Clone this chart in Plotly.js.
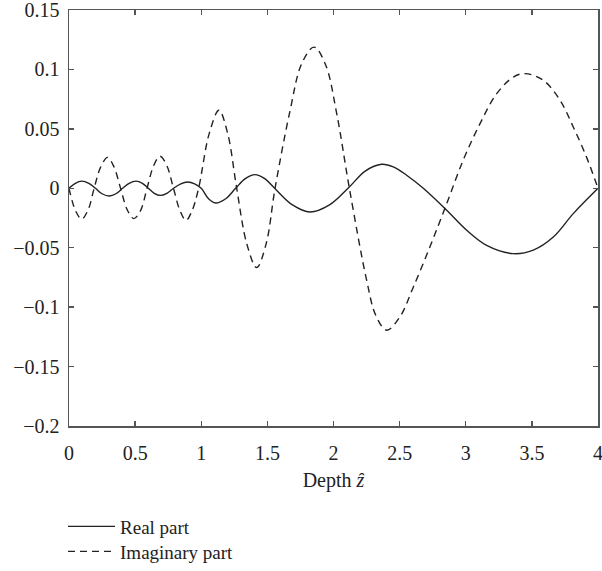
<!DOCTYPE html>
<html>
<head>
<meta charset="utf-8">
<script src="https://cdn.plot.ly/plotly-3.0.1.min.js"></script>
<style>html,body{margin:0;padding:0;background:#fff;}</style>
</head>
<body>
<div id="chart" style="width:602px;height:571px;"></div>
<script>
const realX = [0, 0.048, 0.096, 0.15, 0.2, 0.25, 0.305, 0.355, 0.405, 0.455, 0.507, 0.555, 0.6, 0.645, 0.69, 0.74, 0.79, 0.845, 0.897, 0.95, 1.0, 1.055, 1.109, 1.185, 1.26, 1.333, 1.406, 1.48, 1.555, 1.69, 1.822, 1.97, 2.11, 2.24, 2.364, 2.452, 2.553, 2.679, 2.856, 3.007, 3.158, 3.36, 3.511, 3.662, 3.813, 4.0];
const realY = [0, 0.0042, 0.006, 0.0042, 0, -0.0046, -0.0065, -0.0046, 0, 0.0042, 0.006, 0.0042, 0, -0.0042, -0.006, -0.0042, 0, 0.0038, 0.0053, 0.0038, 0, -0.0088, -0.0124, -0.0088, 0, 0.0081, 0.0115, 0.0081, 0, -0.014, -0.02, -0.014, 0, 0.0145, 0.0202, 0.018, 0.011, 0, -0.0185, -0.0353, -0.048, -0.055, -0.052, -0.041, -0.0213, 0];

const imagX = [0, 0.05, 0.096, 0.145, 0.19, 0.24, 0.292, 0.34, 0.39, 0.44, 0.49, 0.54, 0.59, 0.64, 0.688, 0.74, 0.79, 0.84, 0.885, 0.93, 0.98, 1.06, 1.134, 1.2, 1.268, 1.345, 1.419, 1.49, 1.558, 1.671, 1.76, 1.853, 1.94, 2.024, 2.12, 2.25, 2.32, 2.402, 2.503, 2.604, 2.73, 2.856, 2.98, 3.108, 3.234, 3.36, 3.448, 3.587, 3.713, 3.813, 3.914, 4.0];
const imagY = [0, -0.019, -0.026, -0.018, 0, 0.018, 0.026, 0.018, 0, -0.018, -0.0255, -0.019, 0, 0.019, 0.027, 0.019, 0, -0.019, -0.027, -0.019, 0, 0.046, 0.0656, 0.046, 0, -0.047, -0.0667, -0.047, 0, 0.065, 0.105, 0.1188, 0.104, 0.063, 0, -0.077, -0.107, -0.1194, -0.108, -0.083, -0.049, -0.0129, 0.0235, 0.0544, 0.0796, 0.0936, 0.0965, 0.0908, 0.074, 0.0516, 0.026, 0];

const xTicks = [0, 0.5, 1, 1.5, 2, 2.5, 3, 3.5, 4];
const yTicks = [-0.2, -0.15, -0.1, -0.05, 0, 0.05, 0.1, 0.15];

const fontFam = '"Liberation Serif", "DejaVu Serif", serif';

const traces = [
  {x: realX, y: realY, mode: 'lines', name: 'Real part', legend: 'legend',
   line: {color: '#222', width: 1.4, shape: 'spline', smoothing: 1}},
  {x: imagX, y: imagY, mode: 'lines', name: 'Imaginary part', legend: 'legend2',
   line: {color: '#222', width: 1.4, shape: 'spline', smoothing: 1, dash: '7px,5px'}}
];

const axisCommon = {
  showline: true, linecolor: '#555', linewidth: 1.5, mirror: 'ticks',
  ticks: 'inside', ticklen: 5, tickcolor: '#555', tickwidth: 1.3,
  showgrid: false, zeroline: false, automargin: false,
  ticklabeloverflow: 'allow',
  tickfont: {family: fontFam, size: 20, color: '#222'}
};

const legendCommon = {
  x: -0.0113, xanchor: 'left', xref: 'paper', yref: 'container', yanchor: 'top',
  font: {family: fontFam, size: 19, color: '#222'},
  itemwidth: 47, bgcolor: 'rgba(0,0,0,0)'
};

const layout = {
  width: 602, height: 571,
  margin: {l: 69, r: 4, t: 10, b: 145},
  paper_bgcolor: '#fff', plot_bgcolor: '#fff',
  font: {family: fontFam, size: 20, color: '#222'},
  showlegend: true,
  legend: Object.assign({}, legendCommon, {y: 0.1112}),
  legend2: Object.assign({}, legendCommon, {y: 0.0674}),
  xaxis: Object.assign({}, axisCommon, {
    range: [0, 4], tickvals: xTicks, ticktext: xTicks.map(String),
    ticklabelstandoff: 8,
    title: {text: 'Depth <i>ẑ</i>', font: {family: fontFam, size: 20, color: '#222'}, standoff: 10}
  }),
  yaxis: Object.assign({}, axisCommon, {
    range: [-0.2, 0.15], tickvals: yTicks,
    ticklabelstandoff: 4,
    ticktext: yTicks.map(v => v < 0 ? '\u2212' + String(-v) : String(v))
  })
};

Plotly.newPlot('chart', traces, layout, {displayModeBar: false, staticPlot: true});
</script>
</body>
</html>
